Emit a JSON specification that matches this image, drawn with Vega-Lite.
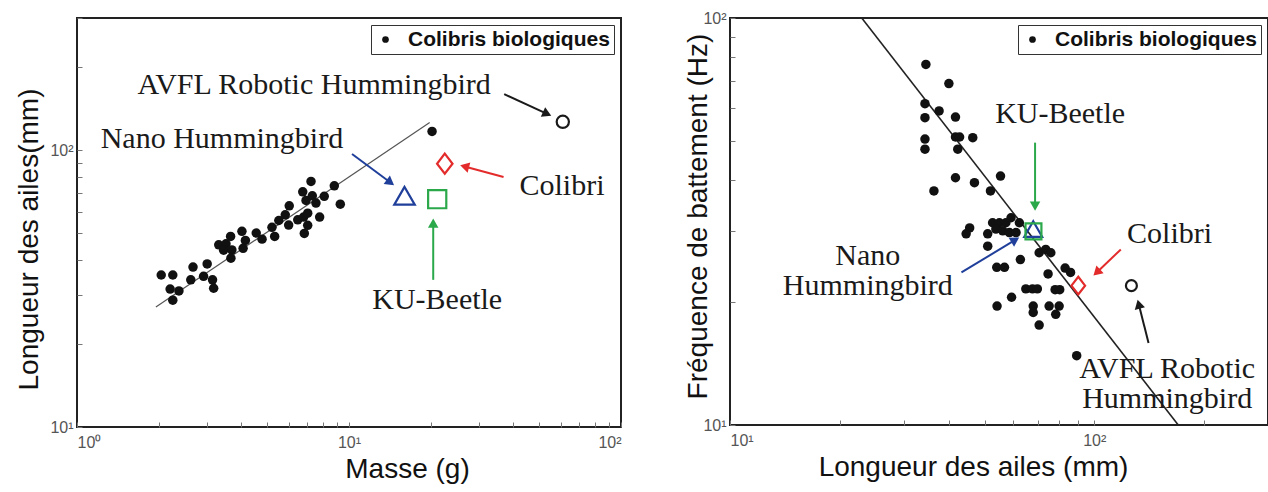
{
  "$schema": "https://vega.github.io/schema/vega-lite/v6.json",
  "background": "white",
  "padding": {"left": 14, "top": 9, "right": 2, "bottom": 0},
  "bounds": "flush",
  "spacing": 109,
  "config": {
    "view": {"stroke": "#222", "strokeWidth": 2},
    "axis": {
      "grid": false,
      "domain": false,
      "ticks": true,
      "tickSize": -5,
      "tickColor": "#777",
      "tickWidth": 1,
      "labelFont": "Liberation Sans",
      "labelFontSize": 16,
      "labelColor": "#555",
      "labelPadding": 12,
      "titleFont": "Liberation Sans",
      "titleFontSize": 28,
      "titleFontWeight": "normal",
      "titleColor": "#111"
    },
    "legend": {
      "orient": "top-right",
      "offset": 7,
      "strokeColor": "#333",
      "fillColor": "white",
      "padding": 4,
      "title": null,
      "labelFont": "Liberation Sans",
      "labelFontSize": 21,
      "labelFontWeight": "bold",
      "labelColor": "#111",
      "labelLimit": 400,
      "labelOffset": 12,
      "symbolType": "circle",
      "symbolSize": 45,
      "symbolFillColor": "#111",
      "symbolStrokeWidth": 0,
      "symbolOpacity": 1
    }
  },
  "resolve": {
    "scale": {"x": "independent", "y": "independent", "color": "independent", "stroke": "independent", "fill": "independent", "shape": "independent", "size": "independent"},
    "legend": {"color": "independent"},
    "axis": {"x": "independent", "y": "independent"}
  },
  "datasets": {
    "ajustement_masse": [
      {"masse": 1.95, "aile": 27.1},
      {"masse": 19.8, "aile": 125.9}
    ],
    "colibris_masse": [
      {"masse": 2.04, "aile": 35.4}, {"masse": 2.25, "aile": 35.4}, {"masse": 2.20, "aile": 31.5},
      {"masse": 2.37, "aile": 31.0}, {"masse": 2.25, "aile": 28.7}, {"masse": 2.67, "aile": 37.8},
      {"masse": 3.01, "aile": 38.8}, {"masse": 2.62, "aile": 34.0}, {"masse": 2.92, "aile": 35.0},
      {"masse": 3.15, "aile": 34.0}, {"masse": 3.18, "aile": 31.7}, {"masse": 3.32, "aile": 45.5},
      {"masse": 3.53, "aile": 45.9}, {"masse": 3.67, "aile": 48.8}, {"masse": 3.46, "aile": 43.5},
      {"masse": 3.71, "aile": 43.6}, {"masse": 3.68, "aile": 40.7}, {"masse": 4.04, "aile": 50.9},
      {"masse": 4.16, "aile": 47.2}, {"masse": 4.08, "aile": 44.2}, {"masse": 4.56, "aile": 50.2},
      {"masse": 4.79, "aile": 47.7}, {"masse": 5.21, "aile": 52.6}, {"masse": 5.33, "aile": 48.8},
      {"masse": 5.52, "aile": 55.7}, {"masse": 5.83, "aile": 58.4}, {"masse": 6.03, "aile": 62.9},
      {"masse": 6.00, "aile": 53.6}, {"masse": 6.48, "aile": 56.0}, {"masse": 6.76, "aile": 70.7},
      {"masse": 7.25, "aile": 77.1}, {"masse": 6.95, "aile": 65.8}, {"masse": 6.81, "aile": 57.3},
      {"masse": 7.05, "aile": 59.2}, {"masse": 7.33, "aile": 68.4}, {"masse": 7.56, "aile": 64.4},
      {"masse": 7.05, "aile": 53.5}, {"masse": 6.85, "aile": 50.0}, {"masse": 7.80, "aile": 57.3},
      {"masse": 8.11, "aile": 68.1}, {"masse": 8.83, "aile": 74.3}, {"masse": 9.29, "aile": 63.8},
      {"masse": 20.2, "aile": 116.8}
    ],
    "robots_masse": [
      {"robot": "Nano Hummingbird", "masse": 16.0, "aile": 68.4},
      {"robot": "KU-Beetle", "masse": 21.1, "aile": 66.5},
      {"robot": "Colibri", "masse": 22.5, "aile": 89.3},
      {"robot": "AVFL Robotic Hummingbird", "masse": 61.1, "aile": 126.5}
    ],
    "fleches_masse": [
      {"robot": "AVFL Robotic Hummingbird", "masse": 37.2, "aile": 159.2, "masse_fin": 53.5, "aile_fin": 135.2},
      {"robot": "Nano Hummingbird", "masse": 10.26, "aile": 96.8, "masse_fin": 14.2, "aile_fin": 76.4},
      {"robot": "Colibri", "masse": 37.0, "aile": 80.0, "masse_fin": 26.6, "aile_fin": 87.3},
      {"robot": "KU-Beetle", "masse": 20.4, "aile": 34.0, "masse_fin": 20.4, "aile_fin": 54.5}
    ],
    "notes_masse": [
      {"label": "AVFL Robotic Hummingbird", "masse": 7.44, "aile": 171.7},
      {"label": "Nano Hummingbird", "masse": 3.41, "aile": 109.6},
      {"label": "Colibri", "masse": 60.7, "aile": 74.1},
      {"label": "KU-Beetle", "masse": 21.1, "aile": 28.7}
    ],
    "ajustement_aile": [
      {"aile": 23.0, "freq": 100},
      {"aile": 170.1, "freq": 10}
    ],
    "colibris_aile": [
      {"aile": 34.5, "freq": 76.9}, {"aile": 39.9, "freq": 69.0}, {"aile": 34.3, "freq": 61.6},
      {"aile": 37.5, "freq": 59.1}, {"aile": 34.3, "freq": 56.9}, {"aile": 41.6, "freq": 57.1},
      {"aile": 34.3, "freq": 50.4}, {"aile": 34.3, "freq": 47.6}, {"aile": 41.6, "freq": 51.0},
      {"aile": 42.7, "freq": 51.0}, {"aile": 46.4, "freq": 50.8}, {"aile": 42.2, "freq": 47.6},
      {"aile": 41.6, "freq": 40.5}, {"aile": 46.9, "freq": 39.4}, {"aile": 55.3, "freq": 40.9},
      {"aile": 36.3, "freq": 37.6}, {"aile": 51.9, "freq": 37.6}, {"aile": 45.5, "freq": 30.5},
      {"aile": 44.5, "freq": 29.5}, {"aile": 51.0, "freq": 29.5}, {"aile": 52.6, "freq": 31.4},
      {"aile": 54.9, "freq": 31.4}, {"aile": 57.2, "freq": 31.4}, {"aile": 53.7, "freq": 30.3},
      {"aile": 56.1, "freq": 30.0}, {"aile": 58.5, "freq": 29.7}, {"aile": 61.0, "freq": 29.7},
      {"aile": 59.1, "freq": 32.3}, {"aile": 62.3, "freq": 31.4}, {"aile": 51.0, "freq": 27.5},
      {"aile": 62.7, "freq": 25.5}, {"aile": 70.6, "freq": 26.5}, {"aile": 73.6, "freq": 27.0},
      {"aile": 76.0, "freq": 26.5}, {"aile": 54.0, "freq": 24.4}, {"aile": 56.7, "freq": 24.4},
      {"aile": 74.7, "freq": 23.5}, {"aile": 83.2, "freq": 24.3}, {"aile": 86.1, "freq": 23.7},
      {"aile": 64.9, "freq": 21.6}, {"aile": 67.7, "freq": 21.6}, {"aile": 69.8, "freq": 21.6},
      {"aile": 78.1, "freq": 21.5}, {"aile": 80.4, "freq": 21.5}, {"aile": 59.3, "freq": 20.6},
      {"aile": 54.1, "freq": 19.6}, {"aile": 68.0, "freq": 19.6}, {"aile": 68.0, "freq": 18.9},
      {"aile": 75.2, "freq": 19.6}, {"aile": 80.1, "freq": 19.6}, {"aile": 78.4, "freq": 18.7},
      {"aile": 70.6, "freq": 17.6}, {"aile": 89.5, "freq": 14.8}
    ],
    "robots_aile": [
      {"robot": "Nano Hummingbird", "aile": 68.0, "freq": 30.3},
      {"robot": "KU-Beetle", "aile": 68.1, "freq": 29.9},
      {"robot": "Colibri", "aile": 90.4, "freq": 22.0},
      {"robot": "AVFL Robotic Hummingbird", "aile": 126.5, "freq": 22.0}
    ],
    "fleches_aile": [
      {"robot": "KU-Beetle", "aile": 68.8, "freq": 49.4, "aile_fin": 68.8, "freq_fin": 34.5},
      {"robot": "Nano Hummingbird", "aile": 43.2, "freq": 23.7, "aile_fin": 60.7, "freq_fin": 28.5},
      {"robot": "Colibri", "aile": 118.3, "freq": 27.0, "aile_fin": 101.6, "freq_fin": 23.7},
      {"robot": "AVFL Robotic Hummingbird", "aile": 141.0, "freq": 15.9, "aile_fin": 132.5, "freq_fin": 19.8}
    ],
    "notes_aile": [
      {"label": "KU-Beetle", "aile": 80.6, "freq": 58.1},
      {"label": "Colibri", "aile": 161.0, "freq": 29.4},
      {"label": "Nano\nHummingbird", "aile": 23.9, "freq": 26.0},
      {"label": "AVFL Robotic\nHummingbird", "aile": 158.6, "freq": 13.7}
    ]
  },
  "hconcat": [
    {
      "width": 544,
      "height": 409,
      "encoding": {
        "x": {
          "field": "masse", "type": "quantitative", "title": "Masse (g)",
          "scale": {"type": "log", "domain": [1, 100], "nice": false, "zero": false},
          "axis": {
            "values": [1, 2, 3, 4, 5, 6, 7, 8, 9, 10, 20, 30, 40, 50, 60, 70, 80, 90, 100],
            "labelExpr": "datum.value == 1 ? '10⁰' : datum.value == 10 ? '10¹' : datum.value == 100 ? '10²' : ''",
            "labelFontSize": 16,
            "titleX": 330,
            "titlePadding": 5
          }
        },
        "y": {
          "field": "aile", "type": "quantitative", "title": "Longueur des ailes(mm)",
          "scale": {"type": "log", "domain": [10, 300], "nice": false, "zero": false},
          "axis": {
            "values": [10, 20, 30, 40, 50, 60, 70, 80, 90, 100, 200, 300],
            "labelExpr": "datum.value == 10 ? '10¹' : datum.value == 100 ? '10²' : ''",
            "labelFontSize": 16,
            "labelPadding": 9,
            "titlePadding": 6,
            "titleY": 221
          }
        }
      },
      "layer": [
        {
          "data": {"name": "ajustement_masse"},
          "mark": {"type": "line", "color": "#555", "strokeWidth": 1.2}
        },
        {
          "data": {"name": "colibris_masse"},
          "mark": {"type": "point", "filled": true, "size": 90, "opacity": 1},
          "encoding": {
            "color": {"datum": "Colibris biologiques", "scale": {"range": ["#111"]}}
          }
        },
        {
          "data": {"name": "fleches_masse"},
          "mark": {"type": "rule", "strokeWidth": 2},
          "encoding": {
            "x2": {"field": "masse_fin"},
            "y2": {"field": "aile_fin"},
            "stroke": {
              "field": "robot", "type": "nominal", "legend": null,
              "scale": {"domain": ["Nano Hummingbird", "KU-Beetle", "Colibri", "AVFL Robotic Hummingbird"], "range": ["#1f3f9a", "#2aa84a", "#e32b2b", "#1a1a1a"]}
            }
          }
        },
        {
          "data": {"name": "fleches_masse"},
          "transform": [
            {"calculate": "atan2(log(datum.masse_fin / datum.masse) * 272, log(datum.aile_fin / datum.aile) * 277) * 180 / PI", "as": "cap"}
          ],
          "mark": {"type": "point", "shape": "triangle-up", "filled": true, "size": 110, "opacity": 1},
          "encoding": {
            "x": {"field": "masse_fin", "type": "quantitative", "title": "Masse (g)"},
            "y": {"field": "aile_fin", "type": "quantitative", "title": "Longueur des ailes(mm)"},
            "angle": {"field": "cap", "type": "quantitative", "scale": null},
            "fill": {
              "field": "robot", "type": "nominal", "legend": null,
              "scale": {"domain": ["Nano Hummingbird", "KU-Beetle", "Colibri", "AVFL Robotic Hummingbird"], "range": ["#1f3f9a", "#2aa84a", "#e32b2b", "#1a1a1a"]}
            }
          }
        },
        {
          "data": {"name": "robots_masse"},
          "mark": {"type": "point", "filled": false, "strokeWidth": 2.2, "opacity": 1},
          "encoding": {
            "shape": {
              "field": "robot", "type": "nominal", "legend": null,
              "scale": {"domain": ["Nano Hummingbird", "KU-Beetle", "Colibri", "AVFL Robotic Hummingbird"], "range": ["triangle-up", "square", "M0,-1.3L1,0L0,1.3L-1,0Z", "circle"]}
            },
            "size": {
              "field": "robot", "type": "nominal", "legend": null,
              "scale": {"domain": ["Nano Hummingbird", "KU-Beetle", "Colibri", "AVFL Robotic Hummingbird"], "range": [420, 150, 260, 260]}
            },
            "stroke": {
              "field": "robot", "type": "nominal", "legend": null,
              "scale": {"domain": ["Nano Hummingbird", "KU-Beetle", "Colibri", "AVFL Robotic Hummingbird"], "range": ["#1f3f9a", "#2aa84a", "#e32b2b", "#1a1a1a"]}
            }
          }
        },
        {
          "data": {"name": "notes_masse"},
          "mark": {"type": "text", "font": "Liberation Serif", "fontSize": 30, "fill": "#1a1a1a", "align": "center", "baseline": "middle", "lineBreak": "\n", "lineHeight": 30},
          "encoding": {"text": {"field": "label", "type": "nominal"}}
        }
      ]
    },
    {
      "width": 538,
      "height": 407,
      "encoding": {
        "x": {
          "field": "aile", "type": "quantitative", "title": "Longueur des ailes (mm)",
          "scale": {"type": "log", "domain": [10, 300], "nice": false, "zero": false},
          "axis": {
            "values": [10, 20, 30, 40, 50, 60, 70, 80, 90, 100, 200, 300],
            "labelExpr": "datum.value == 10 ? '10¹' : datum.value == 100 ? '10²' : ''",
            "labelFontSize": 16,
            "titleX": 243,
            "titlePadding": 5
          }
        },
        "y": {
          "field": "freq", "type": "quantitative", "title": "Fréquence de battement (Hz)",
          "scale": {"type": "log", "domain": [10, 100], "nice": false, "zero": false},
          "axis": {
            "values": [10, 20, 30, 40, 50, 60, 70, 80, 90, 100],
            "labelExpr": "datum.value == 10 ? '10¹' : datum.value == 100 ? '10²' : ''",
            "labelFontSize": 16,
            "labelPadding": 9,
            "titlePadding": -10,
            "titleY": 198
          }
        }
      },
      "layer": [
        {
          "data": {"name": "ajustement_aile"},
          "mark": {"type": "line", "color": "#222", "strokeWidth": 1.6, "clip": true}
        },
        {
          "data": {"name": "colibris_aile"},
          "mark": {"type": "point", "filled": true, "size": 90, "opacity": 1},
          "encoding": {
            "color": {"datum": "Colibris biologiques", "scale": {"range": ["#111"]}}
          }
        },
        {
          "data": {"name": "fleches_aile"},
          "mark": {"type": "rule", "strokeWidth": 2},
          "encoding": {
            "x2": {"field": "aile_fin"},
            "y2": {"field": "freq_fin"},
            "stroke": {
              "field": "robot", "type": "nominal", "legend": null,
              "scale": {"domain": ["Nano Hummingbird", "KU-Beetle", "Colibri", "AVFL Robotic Hummingbird"], "range": ["#1f3f9a", "#2aa84a", "#e32b2b", "#1a1a1a"]}
            }
          }
        },
        {
          "data": {"name": "fleches_aile"},
          "transform": [
            {"calculate": "atan2(log(datum.aile_fin / datum.aile) * 366, log(datum.freq_fin / datum.freq) * 407) * 180 / PI", "as": "cap"}
          ],
          "mark": {"type": "point", "shape": "triangle-up", "filled": true, "size": 110, "opacity": 1},
          "encoding": {
            "x": {"field": "aile_fin", "type": "quantitative", "title": "Longueur des ailes (mm)"},
            "y": {"field": "freq_fin", "type": "quantitative", "title": "Fréquence de battement (Hz)"},
            "angle": {"field": "cap", "type": "quantitative", "scale": null},
            "fill": {
              "field": "robot", "type": "nominal", "legend": null,
              "scale": {"domain": ["Nano Hummingbird", "KU-Beetle", "Colibri", "AVFL Robotic Hummingbird"], "range": ["#1f3f9a", "#2aa84a", "#e32b2b", "#1a1a1a"]}
            }
          }
        },
        {
          "data": {"name": "robots_aile"},
          "mark": {"type": "point", "filled": false, "strokeWidth": 2.2, "opacity": 1},
          "encoding": {
            "shape": {
              "field": "robot", "type": "nominal", "legend": null,
              "scale": {"domain": ["Nano Hummingbird", "KU-Beetle", "Colibri", "AVFL Robotic Hummingbird"], "range": ["triangle-up", "square", "M0,-1.3L1,0L0,1.3L-1,0Z", "circle"]}
            },
            "size": {
              "field": "robot", "type": "nominal", "legend": null,
              "scale": {"domain": ["Nano Hummingbird", "KU-Beetle", "Colibri", "AVFL Robotic Hummingbird"], "range": [320, 120, 240, 220]}
            },
            "stroke": {
              "field": "robot", "type": "nominal", "legend": null,
              "scale": {"domain": ["Nano Hummingbird", "KU-Beetle", "Colibri", "AVFL Robotic Hummingbird"], "range": ["#1f3f9a", "#2aa84a", "#e32b2b", "#1a1a1a"]}
            }
          }
        },
        {
          "data": {"name": "notes_aile"},
          "mark": {"type": "text", "font": "Liberation Serif", "fontSize": 30, "fill": "#1a1a1a", "align": "center", "baseline": "middle", "lineBreak": "\n", "lineHeight": 30},
          "encoding": {"text": {"field": "label", "type": "nominal"}}
        }
      ]
    }
  ]
}
